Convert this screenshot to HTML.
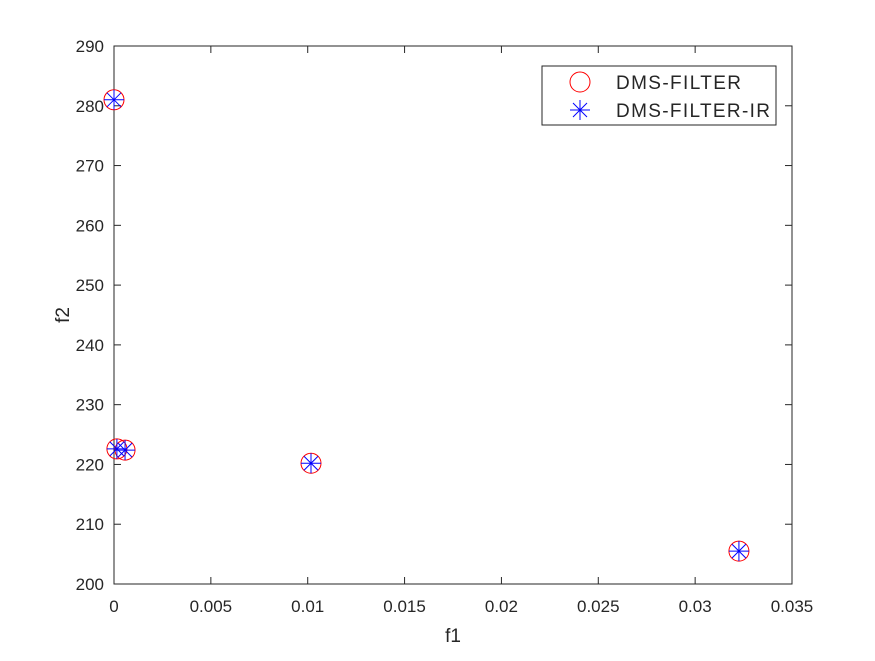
<!DOCTYPE html>
<html><head><meta charset="utf-8"><style>
body{margin:0;background:#fff;}
svg text{font-family:"Liberation Sans",sans-serif;fill:#262626;}
</style></head><body>
<svg width="875" height="656">
<rect x="0" y="0" width="875" height="656" fill="#fff"/>
<rect x="114" y="46" width="678" height="538" fill="#fff" stroke="#262626" stroke-width="1"/>
<g id="ticks"></g>
<g id="marks"></g>
<text x="453" y="642" font-size="19" text-anchor="middle">f1</text>
<text x="0" y="0" font-size="19" text-anchor="middle" transform="translate(69,315) rotate(-90)">f2</text>
<g>
<rect x="542" y="66" width="234" height="59" fill="#fff" stroke="#262626"/>
<circle cx="580" cy="82" r="10" fill="none" stroke="#f00"/>
<text x="616" y="89" font-size="19" textLength="125">DMS-FILTER</text>
<g stroke="#00f">
<line x1="570" y1="110" x2="590" y2="110"/><line x1="580" y1="100" x2="580" y2="120"/>
<line x1="573" y1="103" x2="587" y2="117"/><line x1="587" y1="103" x2="573" y2="117"/></g>
<text x="616" y="117" font-size="19" textLength="154">DMS-FILTER-IR</text>
</g>
</svg>
<script>
const xTicks=[0,0.005,0.01,0.015,0.02,0.025,0.03,0.035];
const xTickLabels=["0","0.005","0.01","0.015","0.02","0.025","0.03","0.035"];
const yTicks=[200,210,220,230,240,250,260,270,280,290];
const f1Filter=[0,0.00015,0.00057,0.01017,0.03226];
const f2Filter=[281.0,222.6,222.4,220.2,205.5];
const f1FilterIR=[0,0.00015,0.00057,0.01017,0.03226];
const f2FilterIR=[281.0,222.6,222.4,220.2,205.5];
const NS="http://www.w3.org/2000/svg";
const X=v=>114+v/0.035*678, Y=v=>584-(v-200)/90*538;
function mk(t,a,p){const e=document.createElementNS(NS,t);for(const k in a)e.setAttribute(k,a[k]);p.appendChild(e);return e;}
const tg=document.getElementById('ticks'), mg=document.getElementById('marks');
xTicks.forEach((v,i)=>{const x=X(v);
const l=mk('line',{x1:x,y1:584,x2:x,y2:577,stroke:'#262626'},tg);


const l2=mk('line',{x1:x,y1:46,x2:x,y2:53,stroke:'#262626'},tg);


const t=mk('text',{x:x,y:612,'font-size':17,'text-anchor':'middle'},tg);t.textContent=xTickLabels[i];

});
yTicks.forEach(v=>{const y=Y(v);
const l=mk('line',{x1:114,y1:y,x2:121,y2:y,stroke:'#262626'},tg);


const l2=mk('line',{x1:792,y1:y,x2:785,y2:y,stroke:'#262626'},tg);


const t=mk('text',{x:104,y:y+6,'font-size':17,'text-anchor':'end'},tg);t.textContent=v;

});
f1Filter.forEach((v,i)=>{const c=mk('circle',{cx:X(v),cy:Y(f2Filter[i]),r:10,fill:'none',stroke:'#f00'},mg);

});
f1FilterIR.forEach((v,i)=>{const x=X(v),y=Y(f2FilterIR[i]);
const g=mk('g',{stroke:'#00f'},mg);


mk('line',{x1:x-10,y1:y,x2:x+10,y2:y},g);mk('line',{x1:x,y1:y-10,x2:x,y2:y+10},g);
mk('line',{x1:x-7,y1:y-7,x2:x+7,y2:y+7},g);mk('line',{x1:x+7,y1:y-7,x2:x-7,y2:y+7},g);});
</script>
</body></html>
